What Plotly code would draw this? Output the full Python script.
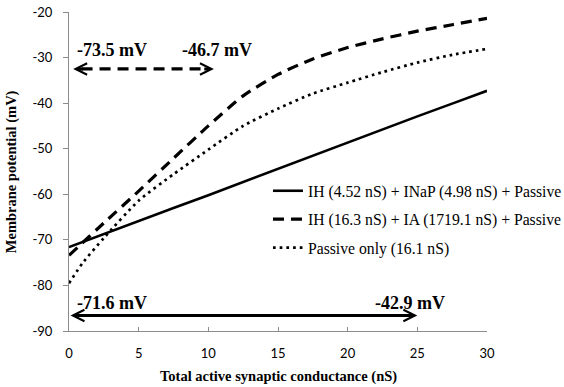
import plotly.graph_objects as go

# ---- data ----
conductance = [0, 2.5, 5, 7.5, 10, 12.5, 15, 17.5, 20, 22.5, 25, 27.5, 30]
ih_inap = [-71.6, -68.7, -65.9, -63.0, -60.2, -57.3, -54.4, -51.6, -48.7, -45.8, -42.9, -40.1, -37.3]
ih_ia = [-73.4, -66.3, -59.3, -52.1, -45.0, -38.4, -33.7, -30.3, -27.8, -25.9, -24.2, -22.8, -21.4]
passive = [-79.5, -69.6, -61.4, -55.6, -50.2, -45.0, -41.2, -37.9, -35.5, -33.2, -31.1, -29.4, -28.1]
# conductance points before 2.5 nS where the passive curve bends
passive_x_extra = [1.0]
passive_y_extra = [-75.0]

series_names = [
    "IH (4.52 nS) + INaP (4.98 nS) + Passive",
    "IH (16.3 nS) + IA (1719.1 nS) + Passive",
    "Passive only (16.1 nS)",
]

# range arrows (nS span, level in mV) and their end labels
solid_arrow_span = [0, 25]
solid_arrow_level = -86.6
solid_arrow_labels = ["-71.6 mV", "-42.9 mV"]
dashed_arrow_span = [0.3, 10.4]
dashed_arrow_level = -32.5
dashed_arrow_labels = ["-73.5 mV", "-46.7 mV"]

x_ticks = [0, 5, 10, 15, 20, 25, 30]
y_ticks = [-90, -80, -70, -60, -50, -40, -30, -20]
y_tick_text = ["-90", "-80", "-70", "-60", "-50", "-40", "-30", "-20"]

x_title = "Total active synaptic conductance (nS)"
y_title = "Membrane potential (mV)"

serif = "Liberation Serif"
sans = "Lato"

px_x = [conductance[0]] + passive_x_extra + conductance[1:]
px_y = [passive[0]] + passive_y_extra + passive[1:]

fig = go.Figure()
fig.add_trace(go.Scatter(x=conductance, y=ih_inap, mode="lines", name=series_names[0],
                         line=dict(color="black", width=2.6), legendgroup="a"))
fig.add_trace(go.Scatter(x=conductance, y=ih_ia, mode="lines", name=series_names[1],
                         line=dict(color="black", width=3.2, dash="11px,7px", shape="spline", smoothing=0.6),
                         legendgroup="b"))
fig.add_trace(go.Scatter(x=px_x, y=px_y, mode="lines", name=series_names[2],
                         line=dict(color="black", width=2.7, dash="2.7px,4px", shape="spline", smoothing=0.6),
                         legendgroup="c"))

# dashed range arrow shaft
fig.add_trace(go.Scatter(x=[dashed_arrow_span[0] + 0.6, dashed_arrow_span[1] - 0.6],
                         y=[dashed_arrow_level, dashed_arrow_level], mode="lines",
                         line=dict(color="black", width=3.2, dash="11px,7px"),
                         showlegend=False, hoverinfo="skip"))

ann = []
# solid double arrow
ann.append(dict(x=solid_arrow_span[1], y=solid_arrow_level, ax=solid_arrow_span[0], ay=solid_arrow_level,
                xref="x", yref="y", axref="x", ayref="y", text="", showarrow=True,
                arrowhead=5, startarrowhead=5, arrowside="end+start", arrowwidth=3,
                arrowsize=0.75, startarrowsize=0.75, arrowcolor="black", standoff=0, startstandoff=0))
# dashed arrow heads
ann.append(dict(x=dashed_arrow_span[0], y=dashed_arrow_level, ax=dashed_arrow_span[0] + 0.8, ay=dashed_arrow_level,
                xref="x", yref="y", axref="x", ayref="y", text="", showarrow=True,
                arrowhead=5, arrowwidth=3, arrowsize=0.75, arrowcolor="black", standoff=0))
ann.append(dict(x=dashed_arrow_span[1], y=dashed_arrow_level, ax=dashed_arrow_span[1] - 0.8, ay=dashed_arrow_level,
                xref="x", yref="y", axref="x", ayref="y", text="", showarrow=True,
                arrowhead=5, arrowwidth=3, arrowsize=0.75, arrowcolor="black", standoff=0))

lab_font = dict(family=serif, size=18, color="black", weight="bold")
for txt, xv, yv in [(dashed_arrow_labels[0], 3.1, -28.3), (dashed_arrow_labels[1], 10.6, -28.3),
                    (solid_arrow_labels[0], 3.05, -83.9), (solid_arrow_labels[1], 24.5, -83.9)]:
    ann.append(dict(x=xv, y=yv, xref="x", yref="y", text=txt, showarrow=False, font=lab_font))

title_font = dict(family=serif, size=14.5, color="black", weight="bold")
ann.append(dict(x=0.5, y=-0.144, xref="paper", yref="paper", text=x_title, showarrow=False,
                xanchor="center", yanchor="middle", font=title_font))
ann.append(dict(x=-0.137, y=0.5, xref="paper", yref="paper", text=y_title, showarrow=False,
                textangle=-90, xanchor="center", yanchor="middle", font=title_font))

fig.update_layout(
    width=564, height=387,
    margin=dict(l=69, r=77, t=12, b=56, autoexpand=False),
    paper_bgcolor="white", plot_bgcolor="white",
    showlegend=True,
    legend=dict(x=0.476, y=0.492, xanchor="left", yanchor="top",
                bgcolor="rgba(0,0,0,0)", borderwidth=0,
                font=dict(family=serif, size=15.7, color="black"),
                traceorder="grouped", tracegroupgap=5),
    annotations=ann,
    xaxis=dict(range=[0, 30], tickvals=x_ticks, showgrid=False, zeroline=False, automargin=False,
               showline=True, linecolor="#8c8c8c", linewidth=1,
               ticks="inside", ticklen=4, tickcolor="#8c8c8c",
               tickfont=dict(family=sans, size=13, color="black"), ticklabelstandoff=10),
    yaxis=dict(range=[-90, -20], tickvals=y_ticks, ticktext=y_tick_text, showgrid=False, zeroline=False,
               automargin=False,
               showline=True, linecolor="#8c8c8c", linewidth=1,
               ticks="outside", ticklen=5, tickcolor="#8c8c8c",
               tickfont=dict(family=sans, size=13, color="black"), ticklabelstandoff=8),
)

fig.write_html("out.html")
